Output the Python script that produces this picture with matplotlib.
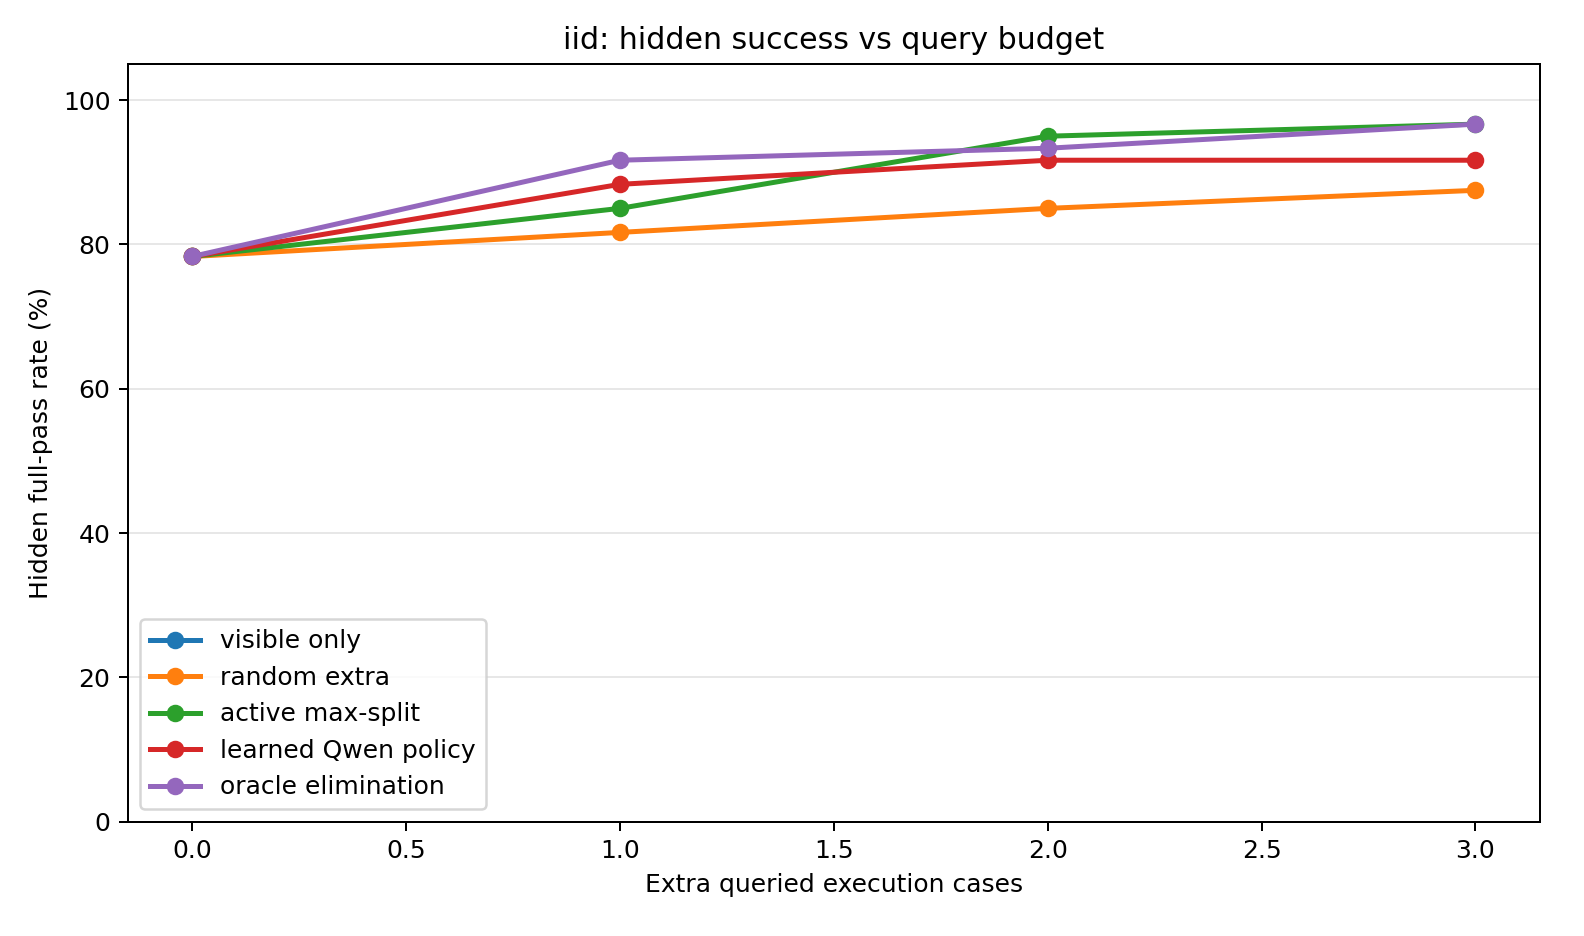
import matplotlib
matplotlib.use("Agg")
import matplotlib.pyplot as plt

budgets = [0, 1, 2, 3]
visible_only = [78.33]
random_extra = [78.33, 81.67, 85.0, 87.5]
active_max_split = [78.33, 85.0, 95.0, 96.67]
learned_qwen = [78.33, 88.33, 91.67, 91.67]
oracle_elim = [78.33, 91.67, 93.33, 96.67]

fig = plt.figure(figsize=(8.8, 5.2), dpi=180)
ax = fig.add_axes([0.0808, 0.122, 0.8912, 0.8096])

ax.plot(budgets[:1], visible_only, marker="o", linewidth=2, label="visible only", color="#1f77b4")
ax.plot(budgets, random_extra, marker="o", linewidth=2, label="random extra", color="#ff7f0e")
ax.plot(budgets, active_max_split, marker="o", linewidth=2, label="active max-split", color="#2ca02c")
ax.plot(budgets, learned_qwen, marker="o", linewidth=2, label="learned Qwen policy", color="#d62728")
ax.plot(budgets, oracle_elim, marker="o", linewidth=2, label="oracle elimination", color="#9467bd")

ax.set_ylim(0, 105)
ax.set_xlim(-0.15, 3.15)
ax.grid(axis="y", alpha=0.3)
ax.set_xlabel("Extra queried execution cases")
ax.set_ylabel("Hidden full-pass rate (%)")
ax.set_title("iid: hidden success vs query budget")
ax.legend(loc="lower left")

fig.savefig("out.png", dpi=180)
